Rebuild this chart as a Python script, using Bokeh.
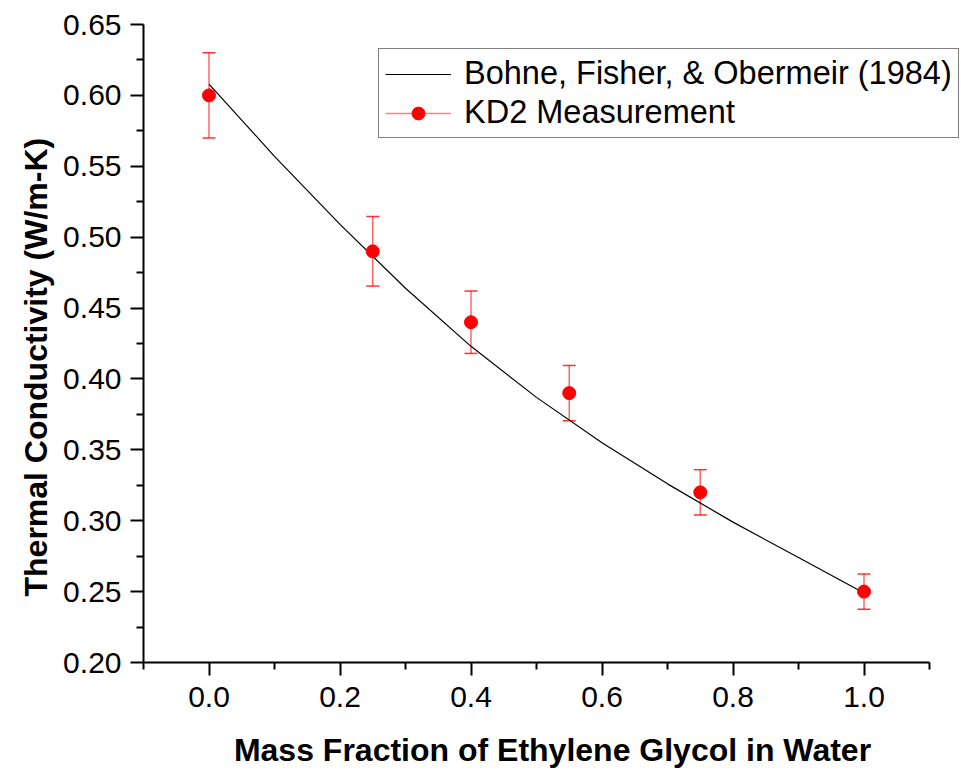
from bokeh.plotting import figure
from bokeh.models import (ColumnDataSource, Whisker, TeeHead, Legend, LegendItem,
                          FixedTicker, NumeralTickFormatter, Range1d, Title)
from bokeh.embed import file_html
from bokeh.resources import INLINE

# ---- data ----
mass_fraction = [0.0, 0.25, 0.40, 0.55, 0.75, 1.0]
measured_k = [0.600, 0.490, 0.440, 0.390, 0.320, 0.250]
error_k = [0.030, 0.0245, 0.022, 0.0195, 0.016, 0.0125]

model_x = [0.0, 0.1, 0.2, 0.3, 0.4, 0.5, 0.6, 0.7, 0.8, 0.9, 1.0]
model_k = [0.608, 0.557, 0.509, 0.464, 0.423, 0.387, 0.355, 0.326, 0.299, 0.274, 0.249]

x_ticks = [0.0, 0.2, 0.4, 0.6, 0.8, 1.0]
x_minor = [-0.1, 0.1, 0.3, 0.5, 0.7, 0.9, 1.1]
y_ticks = [0.20, 0.25, 0.30, 0.35, 0.40, 0.45, 0.50, 0.55, 0.60, 0.65]
y_minor = [0.225, 0.275, 0.325, 0.375, 0.425, 0.475, 0.525, 0.575, 0.625]

FONT = "Liberation Sans"

# frame runs to the right edge so the legend is not clipped; the axis line stops at 1.1
p = figure(width=961, height=770, output_backend="svg", toolbar_location=None,
           x_range=Range1d(-0.1, -0.1 + 818 / 655), y_range=Range1d(0.20, 0.65),
           min_border_left=143, min_border_right=0, min_border_top=24,
           min_border_bottom=107)
p.outline_line_color = None
p.grid.visible = False
p.background_fill_color = "white"
p.border_fill_color = "white"

for ax in (p.xaxis[0], p.yaxis[0]):
    ax.axis_line_width = 2
    ax.major_tick_line_width = 2
    ax.minor_tick_line_width = 2
    ax.major_tick_out = 13
    ax.major_tick_in = 0
    ax.minor_tick_out = 7
    ax.minor_tick_in = 0
    ax.major_label_text_font = FONT
    ax.major_label_text_font_size = "30px"
    ax.major_label_text_color = "black"
    ax.axis_label_text_font = FONT
    ax.axis_label_text_font_size = "32px"
    ax.axis_label_text_font_style = "bold"
    ax.axis_label_text_color = "black"

p.xaxis[0].bounds = (-0.1, 1.1)
p.xaxis[0].ticker = FixedTicker(ticks=x_ticks, minor_ticks=x_minor)
p.yaxis[0].ticker = FixedTicker(ticks=y_ticks, minor_ticks=y_minor)
p.xaxis[0].formatter = NumeralTickFormatter(format="0.0")
p.yaxis[0].formatter = NumeralTickFormatter(format="0.00")
p.xaxis[0].axis_label = "Mass Fraction of Ethylene Glycol in Water"
p.xaxis[0].major_label_standoff = 11
p.xaxis[0].axis_label_standoff = 22
p.yaxis[0].major_label_standoff = 9

# y-axis title, placed as a left-side title so it can sit lower like the reference
ytitle = Title(text="Thermal Conductivity (W/m-K)", align="left", offset=66,
               text_font=FONT, text_font_size="32px", text_font_style="bold",
               text_color="black", standoff=10, vertical_align="top")
p.add_layout(ytitle, "left")

# model curve
curve = p.line(model_x, model_k, line_color="black", line_width=1.2)

# error bars
src = ColumnDataSource(dict(
    x=mass_fraction, y=measured_k,
    upper=[v + e for v, e in zip(measured_k, error_k)],
    lower=[v - e for v, e in zip(measured_k, error_k)],
))
wh = Whisker(source=src, base="x", upper="upper", lower="lower",
             line_color="red", line_alpha=0.6, line_width=1.5,
             upper_head=TeeHead(size=13, line_color="red", line_width=1.5, line_alpha=0.8),
             lower_head=TeeHead(size=13, line_color="red", line_width=1.5, line_alpha=0.8))
p.add_layout(wh)

pts = p.scatter("x", "y", source=src, size=13, fill_color="red", line_color="red")
legend_line = p.line(x=[float("nan")], y=[float("nan")], line_color="red",
                     line_alpha=0.5, line_width=1.5)

legend = Legend(items=[
    LegendItem(label="Bohne, Fisher, & Obermeir (1984)", renderers=[curve]),
    LegendItem(label="KD2 Measurement", renderers=[legend_line, pts]),
], location=(235, 524))
legend.label_text_font = FONT
legend.label_text_font_size = "32.5px"
legend.label_text_color = "black"
legend.border_line_color = "black"
legend.border_line_width = 1.5
legend.background_fill_color = "white"
legend.background_fill_alpha = 1.0
legend.padding = 6
legend.margin = 0
legend.spacing = 2
legend.glyph_width = 66
legend.glyph_height = 32
legend.label_height = 32
legend.label_standoff = 13
p.add_layout(legend, "center")

open("out.html", "w").write(file_html(p, INLINE))
